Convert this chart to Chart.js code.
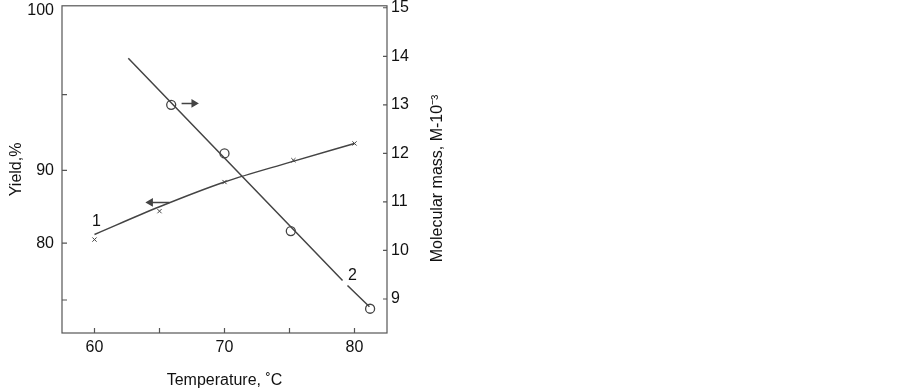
<!DOCTYPE html>
<html>
<head>
<meta charset="utf-8">
<style>
  body { margin: 0; background: #fff; }
  .chartBox { width: 903px; height: 392px; }
</style>
</head>
<body>
<div class="chartBox">
  <canvas id="myChart"></canvas>
</div>

<script type="text/javascript" src="https://cdn.jsdelivr.net/npm/chart.js"></script>

<script>
// data
const yieldTemp = [60, 65, 70, 75.3, 80];
const yieldValues = [80.5, 84.4, 88.4, 91.4, 93.7];
const yieldCurveTemp = [60, 65, 70, 75, 80];
const yieldCurve = [81.2, 85.0, 88.4, 91.1, 93.7];

const massTemp = [65.9, 70, 75.1, 81.2];
const massValues = [13.0, 12.0, 10.4, 8.8];
const massLineTemp = [62.6, 79.08, 79.27, 79.46, 81.15];
const massLine = [13.96, 9.38, null, 9.28, 8.84];

const xTicks = [60, 65, 70, 75, 80];
const xTickLabels = ['60', '', '70', '', '80'];
const yieldTicks = [111.9, 100.4, 90, 80, 72.2];
const yieldTickLabels = ['100', '', '90', '80', ''];
const yieldTickMarks = [false, true, true, true, true];
const massTicks = [9, 10, 11, 12, 13, 14, 15];

// arrows showing which axis each curve belongs to
const arrowLeftTemp = [64.3, 65.77];
const arrowLeftY = [85.6, 85.6];
const arrowRightTemp = [66.7, 67.65];
const arrowRightY = [13.03, 13.03];

const curveLabels = ['1', '2'];
const curveLabelTemp = [60.15, 79.85];
const curveLabelY = [82.9, 9.48];
const curveLabelAxis = ['y', 'y1'];

const massTitle = 'Molecular mass, M-10⁻³';

const ink = '#444';
const frameInk = '#555';
const textInk = '#111';
const pts = (xs, ys) => xs.map((x, i) => ({ x: x, y: ys[i] }));

// frame, inward ticks, curve numbers and the right-hand title (reads bottom to top)
const framePlugin = {
  id: 'frame',
  afterDatasetsDraw(chart) {
    const { ctx, chartArea: a, scales } = chart;
    ctx.save();
    ctx.strokeStyle = frameInk;
    ctx.lineWidth = 1.2;
    ctx.strokeRect(a.left, a.top, a.right - a.left, a.bottom - a.top);
    ctx.beginPath();
    scales.x.ticks.forEach(t => {
      const p = scales.x.getPixelForValue(t.value);
      ctx.moveTo(p, a.bottom); ctx.lineTo(p, a.bottom - 5);
    });
    scales.y.ticks.forEach((t, i) => {
      if (!yieldTickMarks[i]) return;
      const p = scales.y.getPixelForValue(t.value);
      ctx.moveTo(a.left, p); ctx.lineTo(a.left + 5, p);
    });
    scales.y1.ticks.forEach(t => {
      const p = scales.y1.getPixelForValue(t.value);
      ctx.moveTo(a.right, p); ctx.lineTo(a.right - 4, p);
    });
    ctx.stroke();

    ctx.fillStyle = textInk;
    ctx.font = '16px "Liberation Sans", Arial, sans-serif';
    ctx.textAlign = 'center';
    ctx.textBaseline = 'middle';
    curveLabels.forEach((t, i) => {
      ctx.fillText(t, scales.x.getPixelForValue(curveLabelTemp[i]),
        scales[curveLabelAxis[i]].getPixelForValue(curveLabelY[i]));
    });

    ctx.translate(scales.y1.right + 25, (a.top + a.bottom) / 2 + 9);
    ctx.rotate(-Math.PI / 2);
    ctx.fillText(massTitle, 0, 0);
    ctx.restore();
  }
};

const data = {
  datasets: [
    {
      label: 'Yield curve',
      data: pts(yieldCurveTemp, yieldCurve),
      yAxisID: 'y',
      borderColor: ink,
      borderWidth: 1.5,
      pointRadius: 0,
      cubicInterpolationMode: 'monotone'
    },
    {
      label: 'Yield',
      data: pts(yieldTemp, yieldValues),
      yAxisID: 'y',
      showLine: false,
      pointStyle: 'crossRot',
      pointRadius: 3,
      borderColor: ink,
      borderWidth: 1
    },
    {
      label: 'Mass line',
      data: pts(massLineTemp, massLine),
      yAxisID: 'y1',
      borderColor: ink,
      borderWidth: 1.5,
      pointRadius: 0,
      spanGaps: false
    },
    {
      label: 'Molecular mass',
      data: pts(massTemp, massValues),
      yAxisID: 'y1',
      showLine: false,
      pointStyle: 'circle',
      pointRadius: 4.5,
      backgroundColor: '#fff',
      borderColor: ink,
      borderWidth: 1.3
    },
    {
      label: 'arrow 1',
      data: pts(arrowLeftTemp, arrowLeftY),
      yAxisID: 'y',
      borderColor: ink,
      backgroundColor: ink,
      borderWidth: 1.5,
      pointStyle: ['triangle', false],
      pointRotation: -90,
      pointRadius: [3.5, 0]
    },
    {
      label: 'arrow 2',
      data: pts(arrowRightTemp, arrowRightY),
      yAxisID: 'y1',
      borderColor: ink,
      backgroundColor: ink,
      borderWidth: 1.5,
      pointStyle: [false, 'triangle'],
      pointRotation: 90,
      pointRadius: [0, 3.5]
    }
  ]
};

const font = { family: '"Liberation Sans", Arial, sans-serif', size: 16 };
const noGrid = { display: false, drawTicks: false };

const config = {
  type: 'line',
  data,
  plugins: [framePlugin],
  options: {
    responsive: true,
    maintainAspectRatio: false,
    animation: false,
    layout: { padding: { left: 7, right: 490, top: 5, bottom: 2 } },
    plugins: { legend: { display: false }, tooltip: { enabled: false } },
    scales: {
      x: {
        type: 'linear',
        min: 57.5,
        max: 82.5,
        afterBuildTicks: s => { s.ticks = xTicks.map(v => ({ value: v })); },
        afterFit: s => { s.height = 57; s.paddingLeft = 0; s.paddingRight = 0; },
        ticks: { color: textInk, font, padding: 5, maxRotation: 0,
          callback: (v, i) => xTickLabels[i] },
        grid: noGrid,
        border: { display: false },
        title: { display: true, text: 'Temperature, ˚C', color: textInk, font,
          padding: { top: 7, bottom: 0 } }
      },
      y: {
        type: 'linear',
        position: 'left',
        min: 67.67,
        max: 112.6,
        afterBuildTicks: s => { s.ticks = yieldTicks.map(v => ({ value: v })); },
        afterFit: s => { s.width = 55; s.paddingTop = 0; s.paddingBottom = 0; },
        ticks: { color: textInk, font, padding: 8,
          callback: (v, i) => yieldTickLabels[i] },
        grid: noGrid,
        border: { display: false },
        title: { display: true, text: 'Yield,%', color: textInk, font,
          padding: { top: 0, bottom: 0 } }
      },
      y1: {
        type: 'linear',
        position: 'right',
        min: 8.3,
        max: 15.04,
        afterBuildTicks: s => { s.ticks = massTicks.map(v => ({ value: v })); },
        afterFit: s => { s.width = 26; s.paddingTop = 0; s.paddingBottom = 0; },
        ticks: { color: textInk, font, padding: 4 },
        grid: noGrid,
        border: { display: false },
        title: { display: false }
      }
    }
  }
};

const myChart = new Chart(document.getElementById('myChart'), config);
</script>
</body>
</html>
